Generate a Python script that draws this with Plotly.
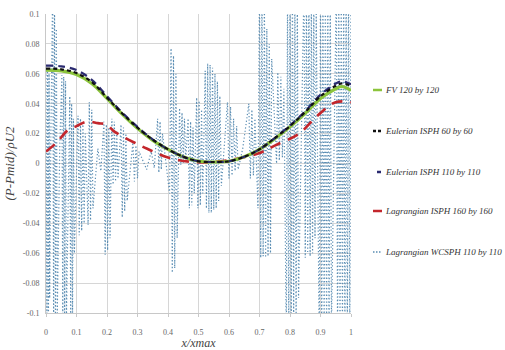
import plotly.graph_objects as go

# ---- data ----
x_smooth = [0.0, 0.05, 0.1, 0.15, 0.2, 0.25, 0.3, 0.35, 0.4, 0.45, 0.5, 0.55, 0.6, 0.65, 0.7, 0.75, 0.8, 0.85, 0.9, 0.95, 0.97, 1.0]
fv_120 = [0.0625, 0.062, 0.0595, 0.0535, 0.0435, 0.033, 0.0235, 0.0155, 0.0095, 0.0045, 0.0015, 0.001, 0.0015, 0.0045, 0.0095, 0.0165, 0.0245, 0.0335, 0.0435, 0.050, 0.0515, 0.049]
eul_60 = [0.0635, 0.063, 0.0605, 0.0545, 0.044, 0.0335, 0.024, 0.016, 0.0095, 0.0045, 0.0015, 0.001, 0.0015, 0.0045, 0.0095, 0.017, 0.025, 0.0345, 0.045, 0.052, 0.0535, 0.052]
eul_110 = [0.0655, 0.065, 0.0625, 0.056, 0.045, 0.034, 0.0245, 0.016, 0.0095, 0.0045, 0.0015, 0.001, 0.0015, 0.0045, 0.0095, 0.017, 0.0255, 0.035, 0.046, 0.0535, 0.055, 0.053]

x_lag = [0.0, 0.035, 0.07, 0.1, 0.135, 0.17, 0.2, 0.22, 0.26, 0.3, 0.33, 0.4, 0.48, 0.55, 0.62, 0.7, 0.75, 0.83, 0.89, 0.95, 1.0]
lag_160 = [0.008, 0.014, 0.022, 0.025, 0.028, 0.027, 0.026, 0.022, 0.017, 0.013, 0.010, 0.004, 0.001, 0.001, 0.003, 0.007, 0.012, 0.020, 0.032, 0.041, 0.041]

wc_x = [0.000, 0.003, 0.005, 0.008, 0.010, 0.012, 0.016,
        0.022, 0.025, 0.028, 0.031, 0.034, 0.037,
        0.045, 0.052, 0.055, 0.058, 0.061, 0.064, 0.067,
        0.078, 0.081, 0.084, 0.087, 0.090, 0.093,
        0.105, 0.109, 0.113, 0.117, 0.121, 0.125, 0.129,
        0.138, 0.142, 0.146, 0.150, 0.154, 0.170, 0.180,
        0.190, 0.194, 0.198, 0.202, 0.206, 0.210,
        0.216, 0.220, 0.224, 0.228, 0.232, 0.236,
        0.246, 0.250, 0.254, 0.258, 0.262, 0.266,
        0.285, 0.290, 0.295, 0.300, 0.305, 0.330, 0.345, 0.355,
        0.366, 0.370, 0.374, 0.378, 0.382,
        0.405, 0.410, 0.414, 0.418, 0.422, 0.426, 0.430,
        0.438, 0.442, 0.446, 0.450, 0.454, 0.458,
        0.466, 0.470, 0.474, 0.478, 0.482, 0.486,
        0.494, 0.498, 0.502, 0.506, 0.510, 0.514,
        0.522, 0.526, 0.530, 0.534, 0.538, 0.542, 0.546, 0.550, 0.554, 0.558, 0.562, 0.566, 0.570, 0.575,
        0.595, 0.600, 0.605, 0.610, 0.615, 0.620, 0.625, 0.630, 0.645,
        0.665, 0.670, 0.675, 0.680, 0.685,
        0.695, 0.700, 0.704, 0.708, 0.712, 0.716, 0.720, 0.724, 0.728, 0.732, 0.736, 0.740,
        0.756, 0.760, 0.765, 0.770, 0.775, 0.780,
        0.788, 0.792, 0.796, 0.800, 0.804, 0.808, 0.812, 0.816, 0.820, 0.824, 0.828,
        0.846, 0.850, 0.854, 0.858, 0.862, 0.866, 0.870, 0.874, 0.878, 0.882, 0.886,
        0.896, 0.900, 0.904, 0.908, 0.912, 0.916, 0.920, 0.924, 0.928, 0.932, 0.936,
        0.952, 0.956, 0.960, 0.964, 0.968, 0.972, 0.976, 0.980, 0.984, 0.988, 0.992, 0.996, 1.000]
wc_y = [0.064, -0.105, 0.062, -0.104, 0.060, -0.09, 0.02,
        0.12, -0.11, 0.11, -0.11, 0.09, -0.10,
        0.01, 0.059, -0.105, 0.058, -0.11, 0.055, -0.104,
        0.045, -0.105, 0.040, -0.102, 0.030, -0.06,
        0.032, -0.048, 0.030, -0.045, 0.026, -0.040, 0.020,
        -0.041, 0.041, -0.038, 0.036, -0.030, 0.010, -0.005,
        0.028, -0.061, 0.026, -0.058, 0.024, -0.050,
        0.030, -0.014, 0.028, -0.012, 0.022, -0.010,
        0.026, -0.036, 0.024, -0.032, 0.020, -0.025,
        0.014, -0.012, 0.012, -0.010, 0.008, -0.004, 0.008, -0.003,
        0.030, -0.006, 0.028, -0.004, 0.020,
        -0.020, 0.077, -0.073, 0.072, -0.070, 0.060, -0.050,
        0.037, -0.001, 0.034, 0.000, 0.030, 0.002,
        0.030, -0.030, 0.028, -0.028, 0.024, -0.020,
        0.044, -0.030, 0.042, -0.028, 0.036, -0.020,
        0.062, -0.030, 0.067, -0.033, 0.066, -0.033, 0.064, -0.031, 0.060, -0.030, 0.055, -0.025, 0.045, -0.015,
        0.041, -0.010, 0.038, -0.008, 0.030, -0.005, 0.025, -0.004, 0.010,
        0.040, -0.010, 0.036, -0.008, 0.030,
        -0.030, 0.12, -0.063, 0.12, -0.062, 0.11, -0.063, 0.09, -0.062, 0.08, -0.060, 0.070,
        0.000, 0.061, 0.002, 0.058, 0.004, 0.050,
        -0.12, 0.12, -0.12, 0.12, -0.115, 0.12, -0.11, 0.12, -0.11, 0.11, -0.09,
        0.12, -0.063, 0.12, -0.060, 0.12, -0.062, 0.11, -0.060, 0.11, -0.050, 0.10,
        -0.12, 0.12, -0.12, 0.12, -0.12, 0.12, -0.12, 0.12, -0.12, 0.12, -0.11,
        0.12, -0.12, 0.12, -0.12, 0.12, -0.12, 0.12, -0.12, 0.12, -0.12, 0.12, -0.12, 0.12]

x_ticks = [0, 0.1, 0.2, 0.3, 0.4, 0.5, 0.6, 0.7, 0.8, 0.9, 1]
x_tick_labels = ["0", "0.1", "0.2", "0.3", "0.4", "0.5", "0.6", "0.7", "0.8", "0.9", "1"]
y_ticks = [0.1, 0.08, 0.06, 0.04, 0.02, 0, -0.02, -0.04, -0.06, -0.08, -0.1]
y_tick_labels = ["0.1", "0.08", "0.06", "0.04", "0.02", "0", "-0.02", "-0.04", "-0.06", "-0.08", "-0.1"]

series_names = ["FV 120 by 120", "Eulerian ISPH 60 by 60", "Eulerian ISPH 110 by 110",
                "Lagrangian ISPH 160 by 160", "Lagrangian WCSPH 110 by 110"]

SERIF = "Liberation Serif, Times New Roman, DejaVu Serif, serif"

c_fv = "#8cc43c"
c_e60 = "#111111"
c_e110 = "#2a2a70"
c_lag = "#c3262c"
c_wc = "#5a8db3"

W, H = 505, 350
L, R, T, B = 46, 154, 14, 37

fig = go.Figure()
fig.add_trace(go.Scatter(x=wc_x, y=wc_y, mode="lines", name=series_names[4],
                         line=dict(color=c_wc, width=1.2, dash="1.2px,2.2px")))
fig.add_trace(go.Scatter(x=x_lag, y=lag_160, mode="lines", name=series_names[3], line_shape="spline",
                         line=dict(color=c_lag, width=2.6, dash="11px,8px")))
fig.add_trace(go.Scatter(x=x_smooth, y=fv_120, mode="lines", name=series_names[0], line_shape="spline",
                         line=dict(color=c_fv, width=3.2)))
fig.add_trace(go.Scatter(x=x_smooth, y=eul_110, mode="lines", name=series_names[2], line_shape="spline",
                         line=dict(color=c_e110, width=2.2, dash="7px,5px")))
fig.add_trace(go.Scatter(x=x_smooth, y=eul_60, mode="lines", name=series_names[1], line_shape="spline",
                         line=dict(color=c_e60, width=2.2, dash="4px,3px")))

# legend drawn as annotations + short line samples (evenly spaced rows)
pw = W - L - R
ph = H - T - B
leg_rows_px = [90, 131, 172, 211, 252]
leg_colors = [c_fv, c_e60, c_e110, c_lag, c_wc]
leg_dash = ["solid", "3px,2px", "4px,3px", "solid", "1.5px,1.5px"]
leg_width = [2.5, 2.5, 2.5, 2.5, 1.5]
sample_x0 = [373, 373, 377, 373, 373]
shapes = []
annotations = []
for i, name in enumerate(series_names):
    yp = (H - B - leg_rows_px[i]) / ph
    shapes.append(dict(type="line", xref="paper", yref="paper",
                       x0=(sample_x0[i] - L) / pw, x1=(382 - L) / pw, y0=yp, y1=yp,
                       line=dict(color=leg_colors[i], width=leg_width[i], dash=leg_dash[i])))
    annotations.append(dict(xref="paper", yref="paper", x=(383 - L) / pw, y=yp,
                            xanchor="left", yanchor="middle", showarrow=False,
                            text="<i>" + name + "</i>",
                            font=dict(family=SERIF, size=9, color="#333333")))

fig.update_layout(
    width=W, height=H,
    margin=dict(l=L, r=R, t=T, b=B, pad=0),
    paper_bgcolor="white", plot_bgcolor="white",
    showlegend=False,
    shapes=shapes, annotations=annotations,
    font=dict(family=SERIF, color="#555555", size=8),
    xaxis=dict(range=[0, 1], tickvals=x_ticks, ticktext=x_tick_labels, automargin=False,
               showgrid=True, gridcolor="#d6d6d6", gridwidth=1,
               showline=True, linecolor="#c8c8c8", linewidth=1,
               ticks="outside", ticklen=3, tickcolor="#c8c8c8", zeroline=False,
               ticklabelstandoff=8,
               tickfont=dict(size=8, color="#666666", family=SERIF),
               title=dict(text="<i>x/xmax</i>", standoff=4,
                          font=dict(size=12, color="#444444", family=SERIF))),
    yaxis=dict(range=[-0.1, 0.1], tickvals=y_ticks, ticktext=y_tick_labels, automargin=False,
               showgrid=True, gridcolor="#d6d6d6", gridwidth=1,
               showline=True, linecolor="#c8c8c8", linewidth=1,
               ticks="", zeroline=False, ticklabelstandoff=4,
               tickfont=dict(size=8, color="#666666", family=SERIF),
               title=dict(text="<i>(P-Pmid)/ρU2</i>", standoff=5,
                          font=dict(size=13, color="#444444", family=SERIF))),
)

fig.write_html("out.html")
